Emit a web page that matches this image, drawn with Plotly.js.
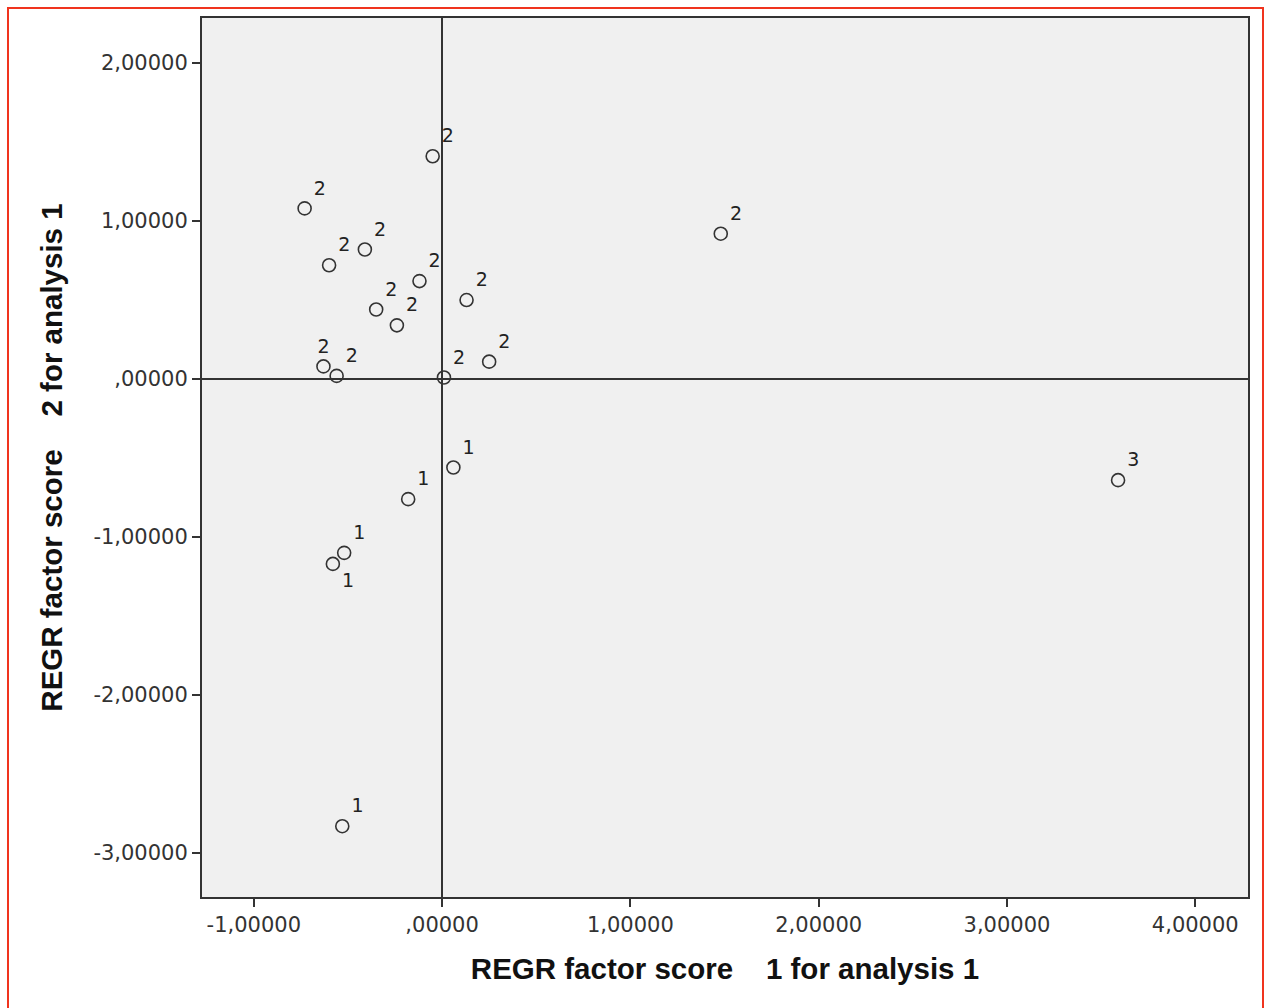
<!DOCTYPE html>
<html>
<head>
<meta charset="utf-8">
<script src="https://cdn.plot.ly/plotly-3.0.1.min.js"></script>
<style>
  html, body { margin: 0; padding: 0; background: #ffffff; }
  #chart { position: absolute; left: 0; top: 0; width: 1267px; height: 1008px; }
  #frame { position: absolute; left: 7px; top: 7px; width: 1253px; height: 1100px;
           border: 2px solid #f0341e; pointer-events: none; }
</style>
</head>
<body>
<div id="chart"></div>
<div id="frame"></div>
<script>
// REGR factor scores (factor 1, factor 2) and cluster label of each case
const factor1 = [-0.05, -0.73, -0.60, -0.41, -0.12, -0.35, -0.24, 0.13, -0.63, -0.56, 0.01, 0.25, 1.48, 3.59, 0.06, -0.18, -0.52, -0.58, -0.53];
const factor2 = [1.41, 1.08, 0.72, 0.82, 0.62, 0.44, 0.34, 0.50, 0.08, 0.02, 0.01, 0.11, 0.92, -0.64, -0.56, -0.76, -1.10, -1.17, -2.83];
const cluster = ["2", "2", "2", "2", "2", "2", "2", "2", "2", "2", "2", "2", "2", "3", "1", "1", "1", "1", "1"];
const labelSide = ["top right", "top right", "top right", "top right", "top right", "top right", "top right", "top right", "top center", "top right", "top right", "top right", "top right", "top right", "top right", "top right", "top right", "bottom right", "top right"];

const xTickVals = [-1, 0, 1, 2, 3, 4];
const xTickText = ["-1,00000", ",00000", "1,00000", "2,00000", "3,00000", "4,00000"];
const yTickVals = [-3, -2, -1, 0, 1, 2];
const yTickText = ["-3,00000", "-2,00000", "-1,00000", ",00000", "1,00000", "2,00000"];

const xTitle = "REGR factor score\u00a0\u00a0\u00a0 1 for analysis 1";
const yTitle = "REGR factor score\u00a0\u00a0\u00a0 2 for analysis 1";

const trace = {
  type: "scatter",
  mode: "markers+text",
  x: factor1,
  y: factor2,
  text: cluster,
  textposition: labelSide,
  textfont: { family: "DejaVu Sans", size: 19, color: "#222222" },
  marker: { symbol: "circle-open", size: 13, color: "#333333", line: { width: 1.6, color: "#333333" } },
  hoverinfo: "x+y+text",
  cliponaxis: false
};

const axisCommon = {
  showgrid: false,
  zeroline: true,
  zerolinecolor: "#333333",
  zerolinewidth: 1.6,
  showline: true,
  mirror: true,
  linecolor: "#333333",
  linewidth: 2,
  ticks: "outside",
  ticklen: 8,
  tickwidth: 2,
  tickcolor: "#333333",
  tickmode: "array",
  tickfont: { family: "DejaVu Sans", size: 21, color: "#333333" }
};

const layout = {
  width: 1267,
  height: 1008,
  paper_bgcolor: "#ffffff",
  plot_bgcolor: "#f0f0f0",
  showlegend: false,
  margin: { l: 202, r: 19, t: 18, b: 111 },
  xaxis: Object.assign({}, axisCommon, {
    range: [-1.275, 4.28],
    tickvals: xTickVals,
    ticktext: xTickText,
    title: { text: xTitle, standoff: 22, font: { family: "Liberation Sans", size: 29.5, weight: 700, color: "#111111" } }
  }),
  yaxis: Object.assign({}, axisCommon, {
    range: [-3.278, 2.285],
    tickvals: yTickVals,
    ticktext: yTickText,
    title: { text: yTitle, standoff: 22, font: { family: "Liberation Sans", size: 29.5, weight: 700, color: "#111111" } }
  })
};

Plotly.newPlot("chart", [trace], layout, { staticPlot: true, displayModeBar: false });
</script>
</body>
</html>
